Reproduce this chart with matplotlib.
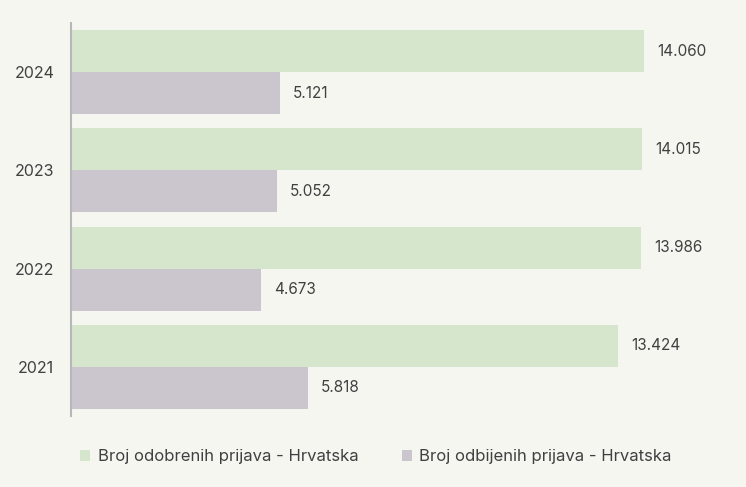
import matplotlib
matplotlib.use("Agg")
import matplotlib.pyplot as plt
import numpy as np

years = ["2021", "2022", "2023", "2024"]
approved = [13424, 13986, 14015, 14060]
rejected = [5818, 4673, 5052, 5121]
approved_labels = ["13.424", "13.986", "14.015", "14.060"]
rejected_labels = ["5.818", "4.673", "5.052", "5.121"]
series_names = ["Broj odobrenih prijava - Hrvatska", "Broj odbijenih prijava - Hrvatska"]

bg = "#f6f6f1"
green = "#d6e6cc"
purple = "#cbc6cd"
text_color = "#404040"

plt.rcParams['font.family'] = ['Inter', 'DejaVu Sans']

fig = plt.figure(figsize=(7.46, 4.87), dpi=100, facecolor=bg)
ax = fig.add_axes([71/746, 1-416/487, 652/746, (416-23)/487])
ax.set_facecolor(bg)

y = np.arange(len(years))
h = 0.427
b1 = ax.barh(y + h/2, approved, height=h, color=green, label=series_names[0])
b2 = ax.barh(y - h/2, rejected, height=h, color=purple, label=series_names[1])

for bars, labs in ((b1, approved_labels), (b2, rejected_labels)):
    for bar, lab in zip(bars, labs):
        ax.annotate(lab, (bar.get_width(), bar.get_y() + bar.get_height()/2),
                    xytext=(13, 0), textcoords="offset pixels",
                    va="center", ha="left", fontsize=11, color=text_color)

ax.set_xlim(0, 16000)
ax.set_ylim(-0.5, len(years) - 0.5)
ax.set_yticks(y)
ax.set_yticklabels(years, fontsize=11.5, color=text_color)
ax.tick_params(axis="y", length=0, pad=12)
ax.set_xticks([])
for s in ("top", "right", "bottom"):
    ax.spines[s].set_visible(False)
ax.spines["left"].set_color("#b8b8b8")
ax.spines["left"].set_linewidth(1.5)

leg = fig.legend(handles=[b1, b2], loc="center", bbox_to_anchor=(376/746, 1-457/487),
                 ncol=2, frameon=False, fontsize=12, handlelength=0.6, handleheight=0.6,
                 handletextpad=0.45, columnspacing=2.6, labelcolor=text_color)

fig.savefig("out.png", dpi=100, facecolor=bg)
